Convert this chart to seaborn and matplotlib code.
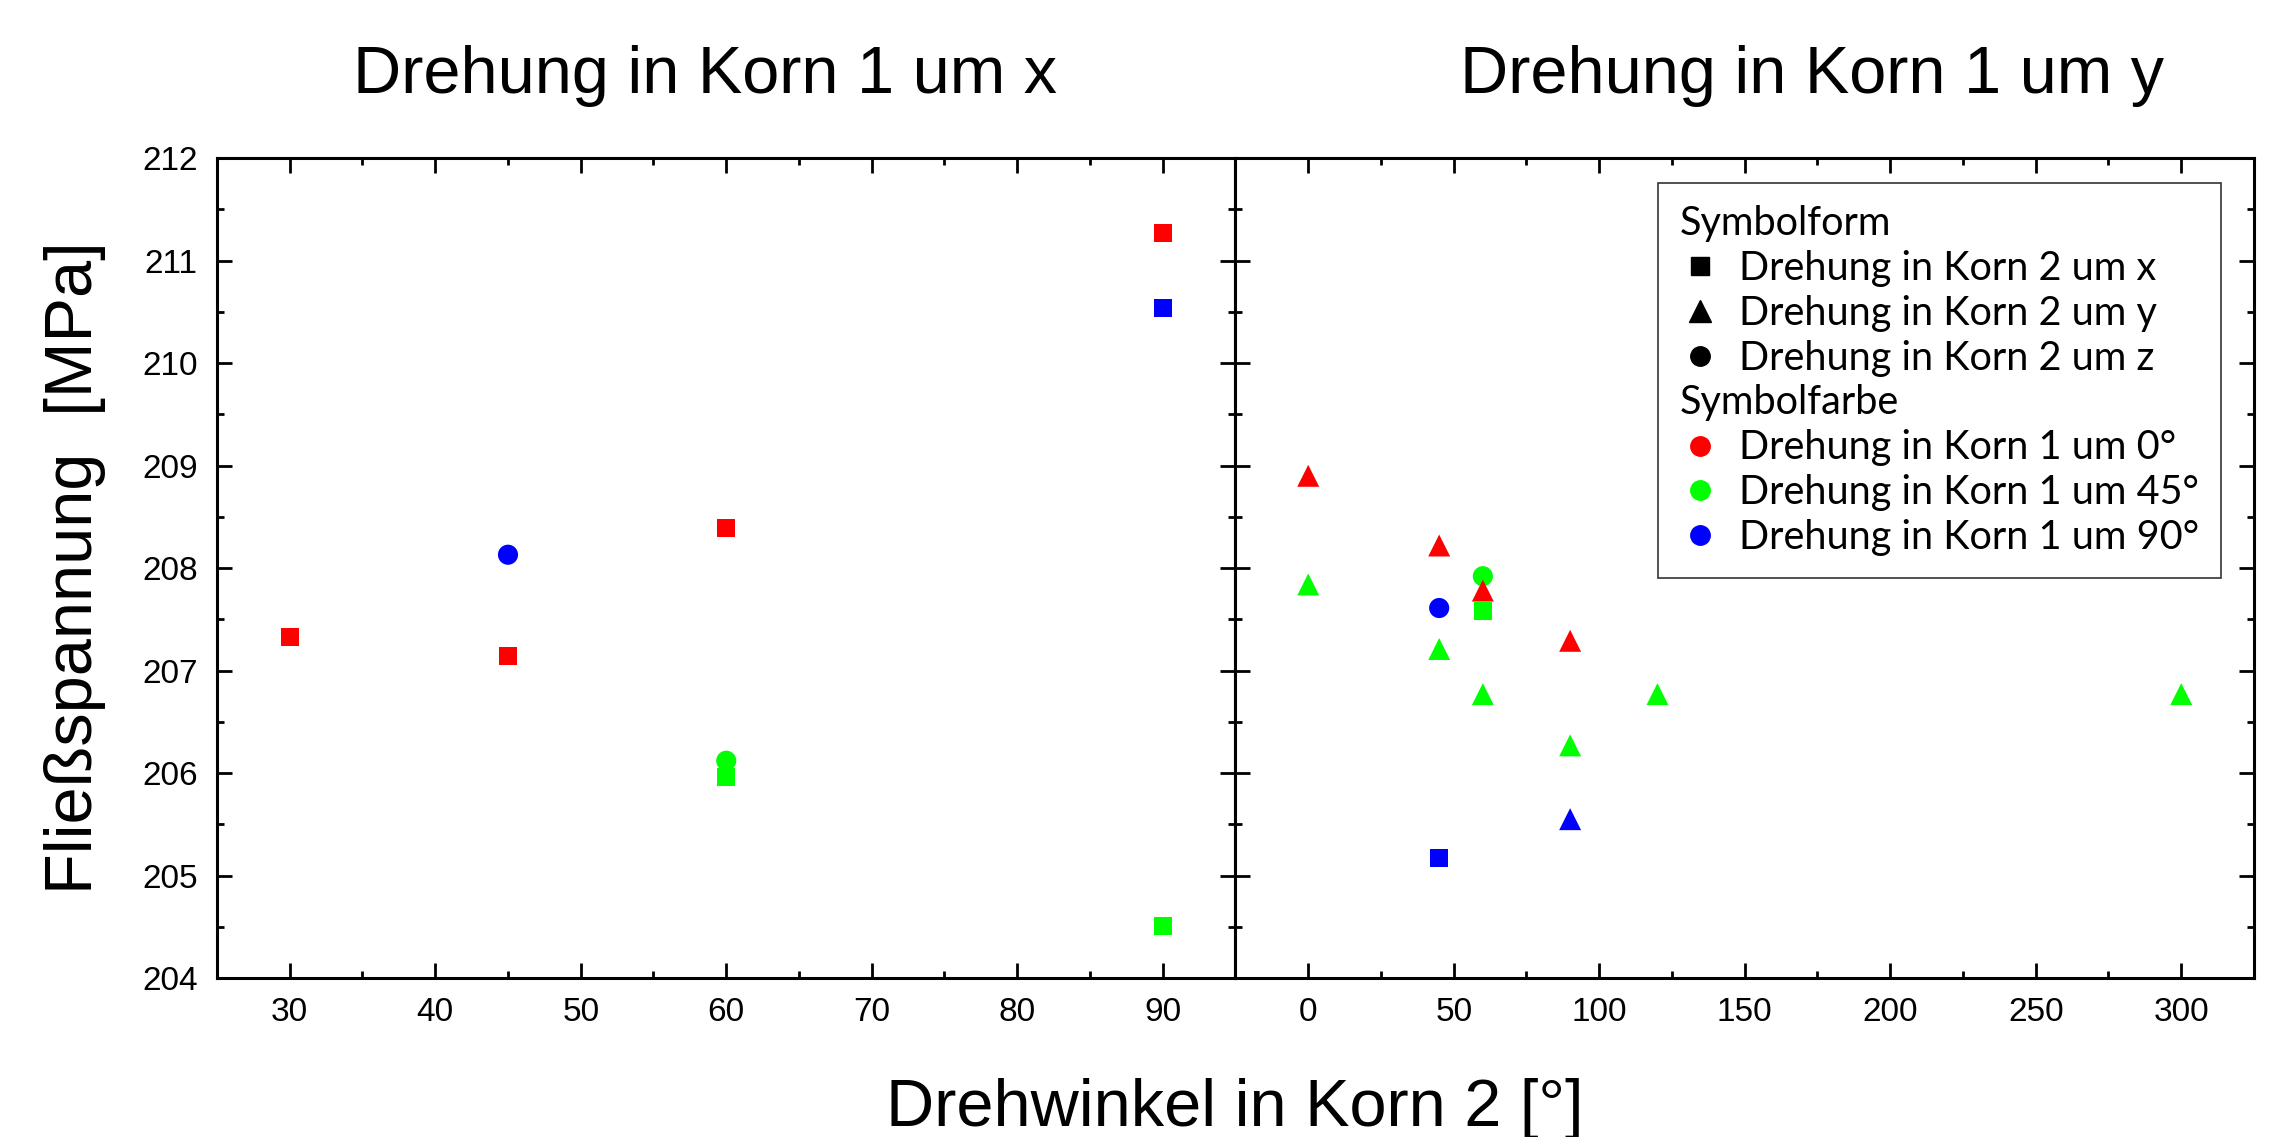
import matplotlib
matplotlib.use("Agg")
import matplotlib.pyplot as plt
from matplotlib.lines import Line2D
from matplotlib.ticker import MultipleLocator
import pandas as pd
import seaborn as sns


# Drehung in Korn 1 um x
winkel_x = [30, 45, 45, 60, 60, 60, 90, 90, 90]
spannung_x = [207.33, 207.14, 208.13, 208.39, 206.12, 205.96, 211.27, 210.54, 204.51]
form_x = ["x", "x", "z", "x", "z", "x", "x", "x", "x"]
farbe_x = ["0°", "0°", "90°", "0°", "45°", "45°", "0°", "90°", "45°"]

# Drehung in Korn 1 um y
winkel_y = [0, 0, 45, 45, 45, 45, 60, 60, 60, 60, 90, 90, 90, 120, 300]
spannung_y = [208.90, 207.84, 208.22, 207.61, 207.21, 205.17, 207.92, 207.78,
              207.58, 206.77, 207.29, 206.27, 205.55, 206.77, 206.77]
form_y = ["y", "y", "y", "z", "y", "x", "z", "y", "x", "y", "y", "y", "y", "y", "y"]
farbe_y = ["0°", "45°", "0°", "90°", "45°", "90°", "45°", "0°", "45°", "45°",
           "0°", "45°", "90°", "45°", "45°"]

FARBEN = {"0°": "#ff0000", "45°": "#00ff00", "90°": "#0000ff"}
MARKER = {"x": "s", "y": "^", "z": "o"}
GROESSEN = {"x": 170, "y": 250, "z": 210}

TEXT_FONT = "Liberation Sans"
LEGENDE_FONT = "Lato"


def zeichne_panel(ax, winkel, spannung, form, farbe):
    daten = pd.DataFrame({"winkel": winkel, "spannung": spannung,
                          "form": form, "farbe": farbe})
    sns.scatterplot(data=daten, x="winkel", y="spannung", hue="farbe",
                    style="form", size="form", palette=FARBEN, markers=MARKER,
                    sizes=GROESSEN, linewidth=0, legend=False, ax=ax, zorder=3)
    ax.set_xlabel("")
    ax.set_ylabel("")
    ax.tick_params(which="both", direction="in", top=True, right=True,
                   left=True, bottom=True, width=2.0, labelsize=24, pad=14,
                   color="black", labelcolor="black")
    ax.tick_params(which="major", length=10.5)
    ax.tick_params(which="minor", length=5)
    for spine in ax.spines.values():
        spine.set_linewidth(2.2)
        spine.set_color("black")
        spine.set_visible(True)


def main():
    sns.set_theme(style="white")
    plt.rcParams["font.family"] = [TEXT_FONT, "DejaVu Sans"]
    plt.rcParams["text.color"] = "black"
    plt.rcParams["axes.labelcolor"] = "black"

    fig, (ax1, ax2) = plt.subplots(1, 2, sharey=True, figsize=(22.89, 11.37), dpi=100)
    fig.subplots_adjust(left=0.0948, right=0.9847, top=0.861, bottom=0.1398, wspace=0)

    zeichne_panel(ax1, winkel_x, spannung_x, form_x, farbe_x)
    zeichne_panel(ax2, winkel_y, spannung_y, form_y, farbe_y)

    ax1.set_ylim(204, 212)
    ax1.yaxis.set_major_locator(MultipleLocator(1))
    ax1.yaxis.set_minor_locator(MultipleLocator(0.5))
    ax1.set_xlim(25, 95)
    ax1.xaxis.set_major_locator(MultipleLocator(10))
    ax1.xaxis.set_minor_locator(MultipleLocator(5))
    ax2.set_xlim(-25, 325)
    ax2.xaxis.set_major_locator(MultipleLocator(50))
    ax2.xaxis.set_minor_locator(MultipleLocator(25))

    ax1.set_ylabel("Fließspannung  [MPa]", fontsize=48, color="black")
    ax1.yaxis.set_label_coords(-0.109, 0.5)

    fig.text(0.308, 0.918, "Drehung in Korn 1 um x", fontsize=48,
             ha="center", va="baseline", color="black")
    fig.text(0.7916, 0.918, "Drehung in Korn 1 um y", fontsize=48,
             ha="center", va="baseline", color="black")
    fig.text(0.5395, 0.0097, "Drehwinkel in Korn 2 [°]", fontsize=48,
             ha="center", va="baseline", color="black")

    # Legende: Überschriften ohne Symbol, danach Form- und Farbschlüssel
    leer = Line2D([], [], linestyle="none")
    handles = [
        leer,
        Line2D([], [], linestyle="none", marker="s", color="black", markersize=13),
        Line2D([], [], linestyle="none", marker="^", color="black", markersize=16),
        Line2D([], [], linestyle="none", marker="o", color="black", markersize=14),
        leer,
        Line2D([], [], linestyle="none", marker="o", color=FARBEN["0°"], markersize=14),
        Line2D([], [], linestyle="none", marker="o", color=FARBEN["45°"], markersize=14),
        Line2D([], [], linestyle="none", marker="o", color=FARBEN["90°"], markersize=14),
    ]
    labels = [
        "Symbolform",
        "Drehung in Korn 2 um x",
        "Drehung in Korn 2 um y",
        "Drehung in Korn 2 um z",
        "Symbolfarbe",
        "Drehung in Korn 1 um 0°",
        "Drehung in Korn 1 um 45°",
        "Drehung in Korn 1 um 90°",
    ]
    leg = ax2.legend(handles, labels, loc="upper left", bbox_to_anchor=(0.4145, 0.9695),
                     borderaxespad=0, prop={"family": LEGENDE_FONT, "size": 28.5},
                     handlelength=1.05, handletextpad=0.45, borderpad=0.55,
                     labelspacing=0.2, fancybox=False, framealpha=1)
    leg.get_frame().set_edgecolor("#333333")
    leg.get_frame().set_linewidth(1.2)
    for text in leg.get_texts():
        text.set_color("black")
    zeilen = leg._legend_handle_box.get_children()[0].get_children()
    for i in (0, 4):
        zeilen[i].sep = 0
        zeilen[i].get_children()[0].width = 0

    fig.savefig("out.png", dpi=100)
    plt.close(fig)


if __name__ == "__main__":
    main()
